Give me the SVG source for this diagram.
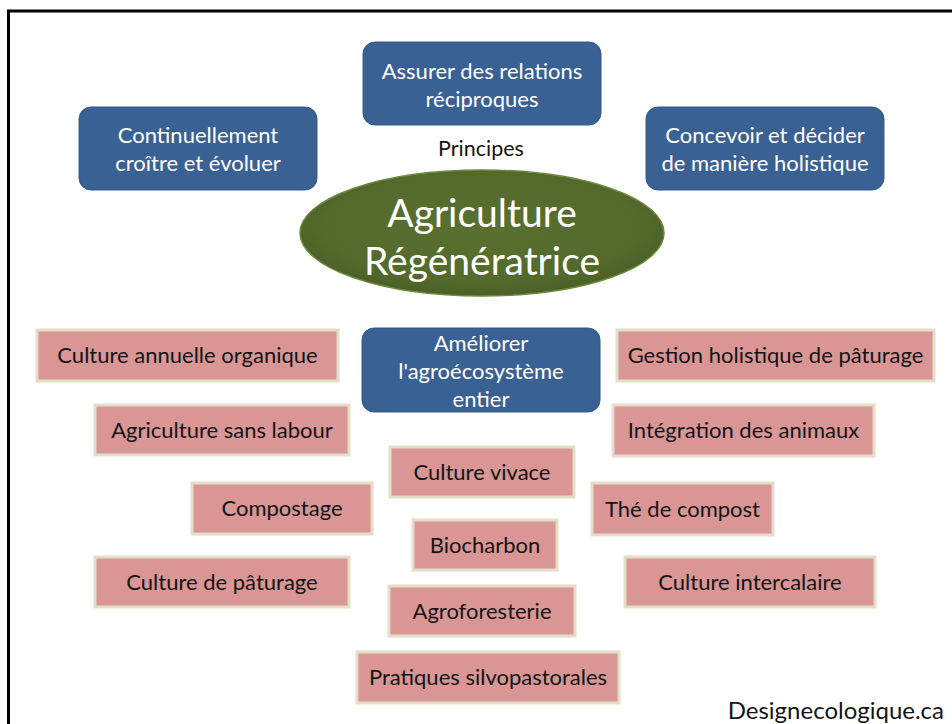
<svg xmlns="http://www.w3.org/2000/svg" width="952" height="724" viewBox="0 0 952 724">
  <defs>
    <radialGradient id="hubFill" cx="50%" cy="45%" r="55%">
      <stop offset="0" stop-color="#5a7031"/>
      <stop offset="0.8" stop-color="#546a2c"/>
      <stop offset="1" stop-color="#4a5f25"/>
    </radialGradient>
  </defs>
  <style>
    .frame { fill: none; stroke: #000; stroke-width: 3; }
    .principle rect { fill: #3a6194; stroke: #335a8a; stroke-width: 1; }
    .principle text { fill: #fff; font-family: Lato, "Open Sans", "Liberation Sans", sans-serif; font-size: 22px; text-anchor: middle; dominant-baseline: central; }
    .practice rect { fill: #d99694; stroke: #e3ddc9; stroke-width: 3; }
    .practice text { fill: #141414; font-family: Lato, "Open Sans", "Liberation Sans", sans-serif; font-size: 22px; text-anchor: middle; dominant-baseline: central; }
    .hub ellipse { fill: url(#hubFill); stroke: #6d8a3c; stroke-width: 1.5; }
    .hub text { fill: #fff; font-family: Lato, "Open Sans", "Liberation Sans", sans-serif; font-size: 39px; text-anchor: middle; dominant-baseline: central; }
    .label { fill: #141414; font-family: Lato, "Open Sans", "Liberation Sans", sans-serif; font-size: 21.5px; text-anchor: middle; dominant-baseline: central; }
    .credit { fill: #141414; font-family: Lato, "Open Sans", "Liberation Sans", sans-serif; font-size: 24px; text-anchor: end; dominant-baseline: central; }
  </style>

  <rect width="952" height="724" fill="#fff"/>
  <!-- page frame, open to the right and bottom -->
  <rect class="frame" x="8.5" y="11" width="960" height="730"/>

  <!-- principles -->
  <g id="p-croitre" class="principle">
    <rect x="79" y="107" width="238" height="83" rx="12"/>
    <text x="198" y="134">Continuellement</text>
    <text x="198" y="162">croître et évoluer</text>
  </g>
  <g id="p-relations" class="principle">
    <rect x="363" y="42" width="238" height="83" rx="12"/>
    <text x="482" y="70">Assurer des relations</text>
    <text x="482" y="98">réciproques</text>
  </g>
  <g id="p-holistique" class="principle">
    <rect x="646" y="107" width="238" height="83" rx="12"/>
    <text x="765" y="134">Concevoir et décider</text>
    <text x="765" y="162">de manière holistique</text>
  </g>
  <g id="p-agroeco" class="principle">
    <rect x="362" y="328" width="238" height="84" rx="12"/>
    <text x="481" y="342">Améliorer</text>
    <text x="481" y="370">l'agroécosystème</text>
    <text x="481" y="398">entier</text>
  </g>

  <text id="principes-label" class="label" x="481" y="148">Principes</text>

  <!-- central hub -->
  <g id="hub" class="hub">
    <ellipse cx="482" cy="233" rx="182" ry="63"/>
    <text x="482" y="212">Agriculture</text>
    <text x="482" y="260">Régénératrice</text>
  </g>

  <!-- practices -->
  <g id="c-annuelle" class="practice">
    <rect x="37" y="330" width="301" height="51"/>
    <text x="187.5" y="354.5">Culture annuelle organique</text>
  </g>
  <g id="c-sans-labour" class="practice">
    <rect x="95" y="405" width="254" height="50"/>
    <text x="222" y="429">Agriculture sans labour</text>
  </g>
  <g id="c-compostage" class="practice">
    <rect x="192" y="483" width="180" height="51"/>
    <text x="282" y="507.5">Compostage</text>
  </g>
  <g id="c-paturage" class="practice">
    <rect x="95" y="557" width="254" height="50"/>
    <text x="222" y="581">Culture de pâturage</text>
  </g>
  <g id="c-vivace" class="practice">
    <rect x="390" y="447" width="184" height="50"/>
    <text x="482" y="471">Culture vivace</text>
  </g>
  <g id="c-biocharbon" class="practice">
    <rect x="413" y="520" width="144" height="50"/>
    <text x="485" y="544">Biocharbon</text>
  </g>
  <g id="c-agroforesterie" class="practice">
    <rect x="389" y="586" width="186" height="50"/>
    <text x="482" y="610">Agroforesterie</text>
  </g>
  <g id="c-silvopastorales" class="practice">
    <rect x="357" y="652" width="262" height="51"/>
    <text x="488" y="676.5">Pratiques silvopastorales</text>
  </g>
  <g id="c-gestion" class="practice">
    <rect x="617" y="330" width="317" height="51"/>
    <text x="775.5" y="354.5">Gestion holistique de pâturage</text>
  </g>
  <g id="c-animaux" class="practice">
    <rect x="613" y="405" width="261" height="51"/>
    <text x="743.5" y="429.5">Intégration des animaux</text>
  </g>
  <g id="c-the" class="practice">
    <rect x="592" y="483" width="181" height="52"/>
    <text x="682.5" y="508">Thé de compost</text>
  </g>
  <g id="c-intercalaire" class="practice">
    <rect x="625" y="557" width="250" height="50"/>
    <text x="750" y="581">Culture intercalaire</text>
  </g>

  <text id="credit" class="credit" x="944" y="709">Designecologique.ca</text>
</svg>
